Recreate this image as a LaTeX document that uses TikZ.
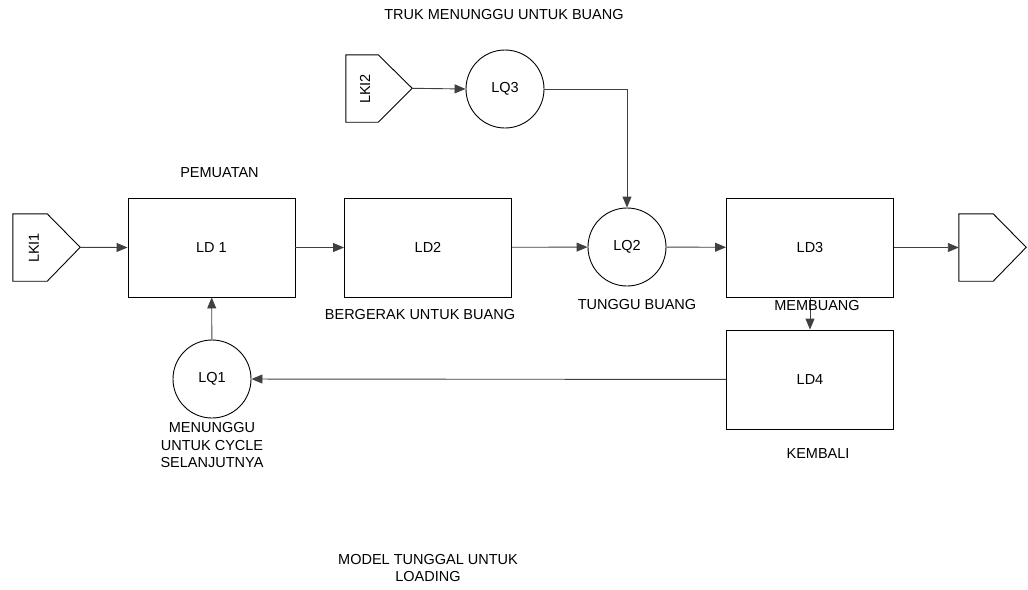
\documentclass[tikz,border=0pt]{standalone}
\usepackage{fontspec}
\setmainfont{Liberation Sans}
\usetikzlibrary{positioning,arrows.meta}

\begin{document}
\begin{tikzpicture}
        [
            x = 1pt, y = -1pt,
            font = \fontsize{14.5}{17.5}\selectfont,
            box/.style = {draw, line width = 0.9pt, minimum width = 167pt, minimum height = 99pt},
            queue/.style = {draw, circle, line width = 0.9pt, minimum size = 78pt, inner sep = 0pt},
            feed/.style = {inner sep = 0pt, minimum height = 67pt},
            lbl/.style = {inner sep = 0pt, align = center},
            flow/.style = {draw = black!75, line width = 0.9pt, -{Triangle[length = 11pt, width = 9pt]}}
        ]
        \useasboundingbox (0,0) rectangle (1028,589);

        % blocks and queues
        \node[box] (ld1) at (211.5,247.5) {LD 1};
        \node[box] (ld2) at (428,247.5) {LD2};
        \node[queue] (lq2) at (627,247) {LQ2};
        \node[box] (ld3) at (810,247.5) {LD3};
        \node[box] (ld4) at (810,379.5) {LD4};
        \node[queue] (lq1) at (212,379) {LQ1};
        \node[queue] (lq3) at (505,89) {LQ3};

        % entry and exit points
        \node[feed, minimum width = 34pt] (lki1) at (30,247.5) {};
        \draw[line width = 0.9pt] (lki1.north west) -- (lki1.north east) -- ++(33,33.5) coordinate (lki1tip)
            -- (lki1.south east) -- (lki1.south west) -- cycle;
        \node[rotate = 90] at (34,248) {LKI1};
        \node[feed, minimum width = 32pt] (lki2) at (362,88.5) {};
        \draw[line width = 0.9pt] (lki2.north west) -- (lki2.north east) -- ++(34,33.5) coordinate (lki2tip)
            -- (lki2.south east) -- (lki2.south west) -- cycle;
        \node[rotate = 90] at (365,89) {LKI2};
        \node[feed, minimum width = 34pt] (out) at (976,247.5) {};
        \draw[line width = 0.9pt] (out.north west) -- (out.north east) -- ++(33,33.5)
            -- (out.south east) -- (out.south west) -- cycle;

        % connectors
        \draw[flow] (lki1tip) -- (ld1.west);
        \draw[flow] (ld1) -- (ld2);
        \draw[flow] (ld2) -- (lq2);
        \draw[flow] (lq2) -- (ld3);
        \draw[flow] (ld3.east) -- (out.west);
        \draw[flow] (lki2tip) -- (lq3.west);
        \draw[flow] (lq3.east) -| (lq2.north);
        \draw[flow] (ld3) -- (ld4);
        \draw[flow] (ld4) -- (lq1);
        \draw[flow] (lq1) -- (ld1);

        % labels
        \node[lbl] (t1) at (504,15) {TRUK MENUNGGU UNTUK BUANG};
        \node[lbl, above = 20pt of ld1, xshift = 8pt] (t2) {PEMUATAN};
        \node[lbl, below = 12pt of ld2, xshift = -8pt] (t3) {BERGERAK UNTUK BUANG};
        \node[lbl, below = 13pt of lq2, xshift = 10pt] (t4) {TUNGGU BUANG};
        \node[lbl, below = 3pt of ld3, xshift = 7pt] (t5) {MEMBUANG};
        \node[lbl, below = 19pt of ld4, xshift = 8pt] (t6) {KEMBALI};
        \node[lbl, below = 4pt of lq1] (t7) {MENUNGGU\\UNTUK CYCLE\\SELANJUTNYA};
        \node[lbl] (t8) at (428,568) {MODEL TUNGGAL UNTUK\\LOADING};
\end{tikzpicture}
\end{document}
